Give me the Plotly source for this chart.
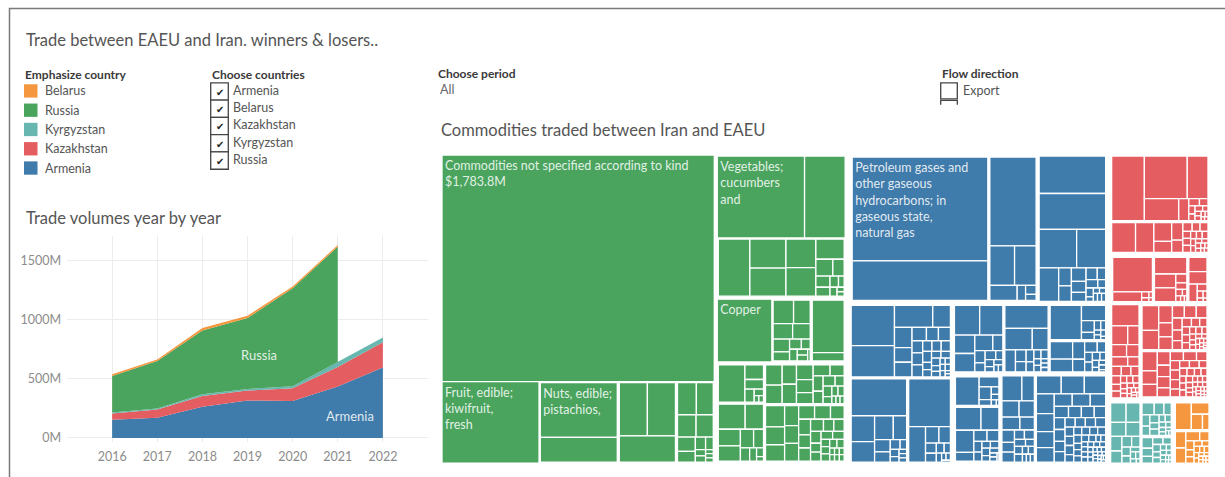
import plotly.graph_objects as go

W, H = 1225, 477
FONT = "Lato, 'Open Sans', sans-serif"

# ---------------- area chart data (million USD) ----------------
YEARS = [2016, 2017, 2018, 2019, 2020, 2021, 2022]
ARMENIA = [154, 171, 263, 316, 311, 434, 596]
KAZAKHSTAN = [53, 70, 92, 84, 109, 165, 213]
KYRGYZSTAN = [8, 8, 14, 14, 17, 42, 39]
RUSSIA = [308, 400, 538, 599, 828, 974, None]
BELARUS = [14, 14, 22, 20, 14, 14, None]
STACK_ORDER = ["Armenia", "Kazakhstan", "Kyrgyzstan", "Russia", "Belarus"]
X_GRID = [2015, 2016, 2017, 2018, 2019, 2020, 2021, 2022, 2023]
Y_TICKS = [0, 500, 1000, 1500]
Y_TICK_TEXT = ["0M", "500M", "1000M", "1500M"]

LEGEND_COUNTRIES = ["Belarus", "Russia", "Kyrgyzstan", "Kazakhstan", "Armenia"]
FILTER_COUNTRIES = ["Armenia", "Belarus", "Kazakhstan", "Kyrgyzstan", "Russia"]

COLORS = {
    "Armenia": "#3f7bab",
    "Belarus": "#f5973e",
    "Kazakhstan": "#e45d61",
    "Kyrgyzstan": "#68b6b0",
    "Russia": "#4aa45e",
}

# ---------------- treemap data (million USD per commodity) ----------------
RU_A_LEAVES = [1783.8, 229]
RU_A_NUTS = [128, 58]
RU_A_COL3 = [46, 46, 45]
RU_A_COL4 = [19, 17, 13, 12, 8, 6, 4, 3, 2, 2, 1, 1, 1]
RU_B1_TOP = [215, 100]
RU_B1_LOW = [57, 33, 32, 27, 27, 18, 9, 6, 5, 4, 3, 2, 2, 1, 1]
RU_B2_TOP = [105]
RU_B2_MID = [16, 13, 10, 9, 7, 5, 4, 3, 3, 2, 2, 1]
RU_B2_RIGHT = [56, 9]
RU_B3_A = [33, 9, 6, 4, 2, 1, 1]
RU_B3_C = [22, 15, 12, 11, 8, 6, 4, 3, 2, 1]
RU_B3_B = [11, 10, 9, 9, 8, 7, 6, 6, 5, 5, 4, 4, 3, 3, 2, 2, 2, 1, 1, 1]
RU_B3_D = [13, 11, 10, 9, 8, 8, 7, 7, 6, 6, 5, 5, 5, 4, 4, 4, 3, 3, 3, 3,
           2, 2, 2, 2, 2, 1, 1, 1, 1, 1, 1]

AM_PETRO = [434, 165]
AM_A1L_R = [130, 31, 27, 13, 4, 3, 2]
AM_A1R = [76, 73, 44, 34, 20, 7, 6, 6, 5, 4, 4, 3, 3, 2, 2, 1, 1, 1, 1, 1, 1]
AM_COL1A = [54, 42, 26, 12, 11, 8, 8, 6, 5, 5, 4, 4, 4, 3, 3, 3, 3, 2, 2, 2, 2, 2,
            1.5, 1.5, 1, 1, 1, 1, 1, 0.5, 0.5]
AM_COL1B = [64, 19, 15, 14, 10, 6, 5, 3, 2, 2, 1.5, 1, 1, 1]
AM_COL1C = [63, 19, 7, 6, 3.5, 3, 2.5, 2, 1.5, 1, 1, 0.5]
AM_A2B = [24, 22, 12, 12, 9, 5, 4, 3, 3, 2, 2, 1.5, 1.5, 1, 1]
AM_A2C = [32, 19, 11, 7.5, 4, 3.5, 3, 2.5, 2, 2, 1.5, 1.5, 1, 1, 1]
AM_A2D = [35, 12, 5, 3, 2, 1.5, 1, 1, 1, 0.5]
AM_A2E = [13, 9.5, 7, 5, 4.5, 3, 2.5, 2.5, 2, 1.5, 1.5, 1, 1, 1, 0.5]
AM_A3A_TOP = [24, 7, 5.5, 2.5, 2, 1.5, 1, 0.5]
AM_A3A_BOT = [20, 14, 14, 5.5, 5, 4.5, 3, 2.5, 2, 2, 2, 1.5, 1.5, 1, 1, 0.5]
AM_A3B = [16, 10, 9, 8, 7.5, 6, 5, 4, 4, 3, 3, 2.5, 2, 2, 2, 1.5, 1.5, 1, 1, 1]
AM_A3C = [14, 13, 12, 11, 10, 9, 8, 7, 7, 6, 5, 4.5, 4.5, 4, 4, 4, 3.5, 3.5,
          3, 3, 3, 3, 2.5, 2.5, 2.5, 2, 2, 2, 2, 2, 2, 1.5, 1.5, 1.5, 1.5, 1.5,
          1, 1, 1, 1, 1, 1, 1, 1, 1, 0.8, 0.8, 0.8, 0.6, 0.6, 0.6, 0.5, 0.5,
          0.5, 0.5, 0.4, 0.4, 0.3, 0.3, 0.3, 0.3]

KZ_1 = [67, 58, 28, 24, 7, 2.5, 2, 1.6, 1.3, 1.3, 0.9, 0.9, 0.9, 0.7, 0.5, 0.4, 0.4]
KZ_2 = [23.5, 18, 11, 6.5, 6.5, 4.5, 2.7, 2.3, 2.3, 1.8, 1.8, 1.8, 1.4, 1.4,
        1.4, 1.1, 1.1, 0.9, 0.9, 0.9, 0.7, 0.7, 0.5, 0.5, 0.5]
KZ_3A = [48, 10, 1.5, 1, 0.7, 0.5]
KZ_3B = [19, 10.5, 10.5, 3.5, 2.5, 1.5, 1, 1, 0.8, 0.5]
KZ_3C = [9.5, 8.5, 5.5, 2.5, 1.5, 1, 0.8, 0.5]
KZ_4 = [19, 10, 7, 6, 5, 5, 3.5, 3, 3, 2.5, 2.5, 2, 2, 1.5, 1.5, 1.5, 1.2,
        1, 1, 1, 0.8, 0.8, 0.6, 0.6, 0.5, 0.5, 0.5, 0.4]
KZ_5A = [14, 11, 8, 6.5, 6, 5, 5, 4.5, 4, 3.5, 3, 2.8, 2.5, 2.2, 2, 2, 1.8, 1.5,
         1.5, 1.2, 1.2, 1, 1, 0.9, 0.8, 0.8, 0.7, 0.6, 0.5, 0.5, 0.4, 0.3, 0.3, 0.2]
KZ_5B = [10, 7, 6.5, 6, 5, 5, 4, 4, 4, 3.2, 3, 3, 3, 2.5, 2.5, 2.5, 2, 2, 2, 1.8,
         1.6, 1.5, 1.5, 1.5, 1.4, 1.2, 1, 1, 1, 1, 0.9, 0.8, 0.8, 0.7, 0.6,
         0.6, 0.6, 0.5, 0.5, 0.5, 0.4, 0.4, 0.3, 0.3, 0.2]

KG_1 = [10, 9, 7, 6.5, 5.5, 4.5, 3.5, 3, 2.5, 2, 1.5, 1.2, 1, 0.8, 0.5]
KG_2 = [5, 4, 3, 3, 2.5, 2.5, 2, 2, 1.5, 1.5, 1.2, 1, 1, 0.8, 0.6, 0.5, 0.4]
KG_3 = [4, 3, 2.5, 2.5, 2, 2, 1.5, 1.5, 1.2, 1, 1, 0.8, 0.8, 0.6, 0.5, 0.4, 0.3, 0.3]

BY_1 = [15, 7, 6, 3.5]
BY_2 = [6, 5.5, 4.5, 3, 2.5, 2, 1.8, 1.5, 1.3, 1.2, 1, 1, 0.9, 0.8, 0.7,
        0.6, 0.5, 0.5, 0.4, 0.4, 0.3, 0.3]

# hierarchy: group -> ordered children (sub-group names or lists of leaf values)
TREE = {
    "root": ["Russia", "Armenia", "Kazakhstan", "Kyrgyzstan", "Belarus"],
    "Russia": ["RU_A", "RU_B"],
    "RU_A": [RU_A_LEAVES, "RU_A_NUTS", "RU_A_COL3", "RU_A_COL4"],
    "RU_A_NUTS": [RU_A_NUTS],
    "RU_A_COL3": [RU_A_COL3],
    "RU_A_COL4": [RU_A_COL4],
    "RU_B": ["RU_B1", "RU_B2", "RU_B3"],
    "RU_B1": [RU_B1_TOP, "RU_B1_LOW"],
    "RU_B1_LOW": [RU_B1_LOW],
    "RU_B2": [RU_B2_TOP, "RU_B2_MID", "RU_B2_RIGHT"],
    "RU_B2_MID": [RU_B2_MID],
    "RU_B2_RIGHT": [RU_B2_RIGHT],
    "RU_B3": ["RU_B3_A", "RU_B3_C", "RU_B3_B", "RU_B3_D"],
    "RU_B3_A": [RU_B3_A],
    "RU_B3_B": [RU_B3_B],
    "RU_B3_C": [RU_B3_C],
    "RU_B3_D": [RU_B3_D],
    "Armenia": ["AM_A1", "AM_COL1", "AM_A2", "AM_A3"],
    "AM_A1": ["AM_A1L", "AM_A1R"],
    "AM_A1L": ["AM_PETRO", "AM_A1L_R"],
    "AM_PETRO": [AM_PETRO],
    "AM_A1L_R": [AM_A1L_R],
    "AM_A1R": [AM_A1R],
    "AM_COL1": ["AM_COL1A", "AM_COL1B", "AM_COL1C"],
    "AM_COL1A": [AM_COL1A],
    "AM_COL1B": [AM_COL1B],
    "AM_COL1C": [AM_COL1C],
    "AM_A2": ["AM_A2B", "AM_A2C", "AM_A2D", "AM_A2E"],
    "AM_A2B": [AM_A2B],
    "AM_A2C": [AM_A2C],
    "AM_A2D": [AM_A2D],
    "AM_A2E": [AM_A2E],
    "AM_A3": ["AM_A3A", "AM_A3B", "AM_A3C"],
    "AM_A3A": ["AM_A3A_TOP", "AM_A3A_BOT"],
    "AM_A3A_TOP": [AM_A3A_TOP],
    "AM_A3A_BOT": [AM_A3A_BOT],
    "AM_A3B": [AM_A3B],
    "AM_A3C": [AM_A3C],
    "Kazakhstan": ["KZ_TOP", "KZ_BOT"],
    "KZ_TOP": ["KZ_1", "KZ_2"],
    "KZ_1": [KZ_1],
    "KZ_2": [KZ_2],
    "KZ_BOT": ["KZ_3", "KZ_4", "KZ_5"],
    "KZ_3": ["KZ_3A", "KZ_3B", "KZ_3C"],
    "KZ_3A": [KZ_3A],
    "KZ_3B": [KZ_3B],
    "KZ_3C": [KZ_3C],
    "KZ_4": [KZ_4],
    "KZ_5": ["KZ_5A", "KZ_5B"],
    "KZ_5A": [KZ_5A],
    "KZ_5B": [KZ_5B],
    "Kyrgyzstan": ["KG_1", "KG_2", "KG_3"],
    "KG_1": [KG_1],
    "KG_2": [KG_2],
    "KG_3": [KG_3],
    "Belarus": ["BY_1", "BY_2"],
    "BY_1": [BY_1],
    "BY_2": [BY_2],
}

LEAF_LABELS = {
    ("RU_A", 0): "Commodities not specified according to kind<br>$1,783.8M",
    ("RU_A", 1): "Fruit, edible;<br>kiwifruit,<br>fresh",
    ("RU_A_NUTS", 0): "Nuts, edible;<br>pistachios,",
    ("RU_B1", 0): "Vegetables;<br>cucumbers<br>and",
    ("RU_B2", 0): "Copper",
    ("AM_PETRO", 0): "Petroleum gases and<br>other gaseous<br>hydrocarbons; in<br>gaseous state,<br>natural gas",
}


def px(x):
    return x / W


def py(y):
    return 1 - y / H


fig = go.Figure()

# ---------------- stacked area chart ----------------
series = {"Armenia": ARMENIA, "Kazakhstan": KAZAKHSTAN, "Kyrgyzstan": KYRGYZSTAN,
          "Russia": RUSSIA, "Belarus": BELARUS}
base = [0] * len(YEARS)
for name in STACK_ORDER:
    vals = series[name]
    xt, yt, xb, yb = [], [], [], []
    new_base = list(base)
    for i, (yr, v) in enumerate(zip(YEARS, vals)):
        if v is None:
            continue
        xt.append(yr)
        yt.append(base[i] + v)
        xb.append(yr)
        yb.append(base[i])
        new_base[i] = base[i] + v
    fig.add_trace(go.Scatter(
        x=xt + xb[::-1], y=yt + yb[::-1], fill="toself", fillcolor=COLORS[name],
        mode="lines", line=dict(width=0, color=COLORS[name]),
        hoverinfo="skip", showlegend=False, xaxis="x", yaxis="y"))
    base = new_base

# ---------------- treemap ----------------
ids, parents, values, colors, texts = [], [], [], [], []


def add_node(name, parent, country):
    ids.append(name)
    parents.append(parent)
    values.append(0)
    colors.append("white")
    texts.append("")
    k = 0
    for item in TREE[name]:
        if isinstance(item, str):
            add_node(item, name, country or item)
        else:
            for v in item:
                ids.append(f"{name}/{k}")
                parents.append(name)
                values.append(v)
                colors.append(COLORS[country])
                texts.append(LEAF_LABELS.get((name, k), ""))
                k += 1


add_node("root", "", None)

fig.add_trace(go.Treemap(
    ids=ids, labels=[""] * len(ids), parents=parents, values=values,
    branchvalues="remainder", sort=False,
    text=texts, textinfo="text", textposition="top left",
    textfont=dict(family=FONT, size=12.5, color="rgba(255,255,255,0.86)"),
    marker=dict(colors=colors, line=dict(width=1.3, color="white"),
                pad=dict(t=1, l=1, r=1, b=1), depthfade=False),
    tiling=dict(packing="squarify", squarifyratio=1, pad=0),
    pathbar=dict(visible=False),
    hoverinfo="skip",
    domain=dict(x=[px(439), px(1212)], y=[py(469), py(153)]),
))

# ---------------- layout ----------------
annotations = []
shapes = []


def text(x, y, s, size=12, color="#555555", xanchor="left"):
    annotations.append(dict(xref="paper", yref="paper", x=px(x), y=py(y), text=s,
                            showarrow=False, xanchor=xanchor, yanchor="middle",
                            font=dict(family=FONT, size=size, color=color)))


# outer frame
shapes.append(dict(type="rect", xref="paper", yref="paper", x0=px(9.5), y0=py(520),
                   x1=px(1300), y1=py(8.5), line=dict(color="#7a7a7a", width=1.5)))

text(24, 40, "Trade between EAEU and Iran. winners & losers..", size=16.5, color="#555555")
text(23, 75, "<b>Emphasize country</b>", size=12, color="#3a3a3a")
for i, name in enumerate(LEGEND_COUNTRIES):
    cy = 91.5 + i * 19.4
    shapes.append(dict(type="rect", xref="paper", yref="paper", x0=px(24), x1=px(37.5),
                       y0=py(cy + 6.7), y1=py(cy - 6.7), fillcolor=COLORS[name],
                       line=dict(width=0)))
    text(43, cy, name, size=12.5, color="#555555")

text(210, 75, "<b>Choose countries</b>", size=12, color="#3a3a3a")
for i, name in enumerate(FILTER_COUNTRIES):
    top = 83.3 + i * 17.4
    shapes.append(dict(type="rect", xref="paper", yref="paper", x0=px(210.7), x1=px(228.3),
                       y0=py(top + 17.4), y1=py(top), line=dict(color="#444444", width=1.3),
                       fillcolor="white"))
    text(219.5, top + 9, "✔", size=10, color="#222222", xanchor="center")
    text(231, top + 7.5, name, size=12.5, color="#555555")

text(436, 74, "<b>Choose period</b>", size=12, color="#3a3a3a")
text(438, 90.5, "All", size=12.5, color="#666666")

text(940, 74, "<b>Flow direction</b>", size=12, color="#3a3a3a")
shapes.append(dict(type="rect", xref="paper", yref="paper", x0=px(940.7), x1=px(957.3),
                   y0=py(99.5), y1=py(83.3), line=dict(color="#444444", width=1.3)))
shapes.append(dict(type="path", xref="paper", yref="paper",
                   path=f"M {px(940.7)} {py(105.5)} L {px(940.7)} {py(101)} L {px(957.3)} {py(101)} L {px(957.3)} {py(105.5)}",
                   line=dict(color="#444444", width=1.3)))
text(960.5, 91, "Export", size=12.5, color="#555555")

text(439, 131, "Commodities traded between Iran and EAEU", size=16.5, color="#555555")
text(24, 219, "Trade volumes year by year", size=16.5, color="#555555")

# labels inside area chart
annotations.append(dict(xref="x", yref="y", x=2019.26, y=697, text="Russia", showarrow=False,
                        font=dict(family=FONT, size=13, color="rgba(255,255,255,0.85)")))
annotations.append(dict(xref="x", yref="y", x=2021.27, y=182, text="Armenia", showarrow=False,
                        font=dict(family=FONT, size=13, color="rgba(255,255,255,0.85)")))

fig.update_layout(
    width=W, height=H, margin=dict(l=0, r=0, t=0, b=0),
    paper_bgcolor="white", plot_bgcolor="white",
    showlegend=False,
    font=dict(family=FONT),
    uniformtext=dict(minsize=12.5, mode="show"),
    xaxis=dict(domain=[px(67), px(428)], range=[2015, 2023], tickvals=X_GRID,
               ticktext=[""] + [str(y) for y in YEARS] + [""],
               showgrid=True, gridcolor="#ececec", gridwidth=1, zeroline=False,
               showline=False, ticks="", ticklabelstandoff=5,
               tickfont=dict(family=FONT, size=12.5, color="#8c8c8c")),
    yaxis=dict(domain=[py(445), py(237)], range=[-36, 1710], tickvals=Y_TICKS,
               ticktext=Y_TICK_TEXT, showgrid=True, gridcolor="#ececec", gridwidth=1,
               zeroline=False, showline=False, ticks="", ticklabelstandoff=5,
               tickfont=dict(family=FONT, size=12.5, color="#8c8c8c")),
    annotations=annotations,
    shapes=shapes,
)

fig.write_html("out.html", config={"displayModeBar": False},
               post_script="document.body.style.margin='0px';")
